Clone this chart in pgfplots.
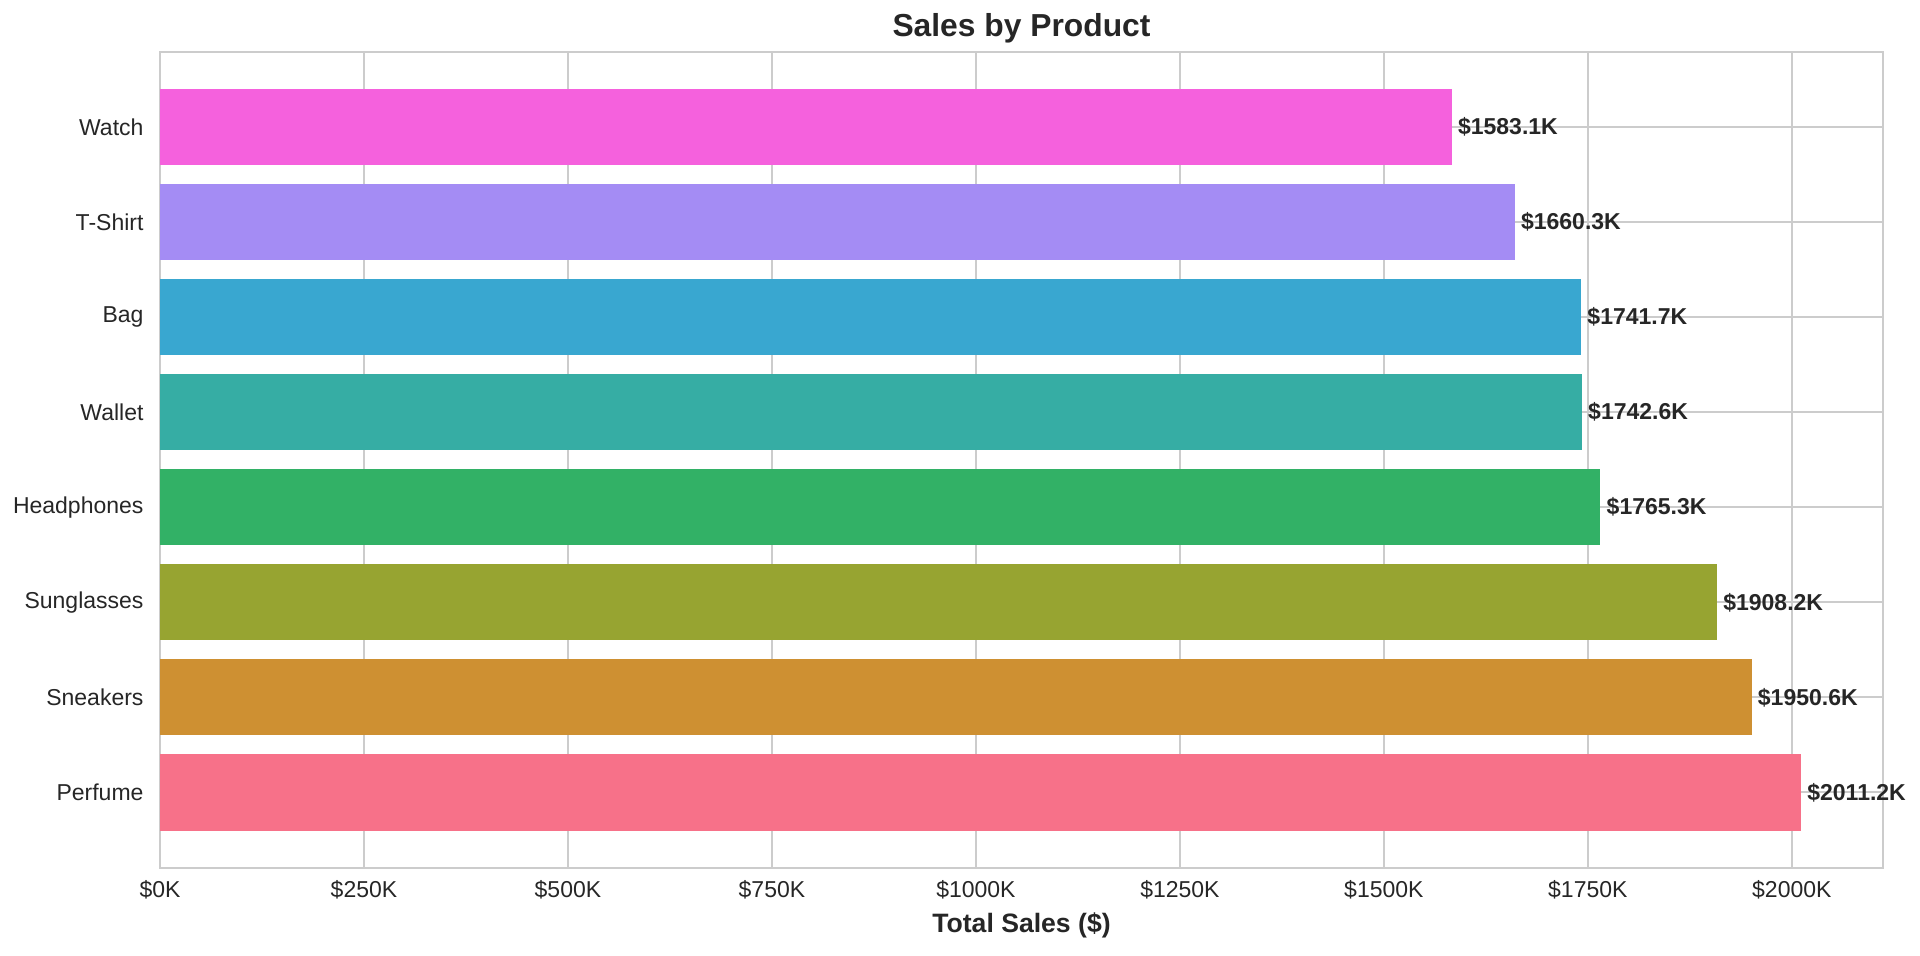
\documentclass[border=0pt]{standalone}
\usepackage{pgfplots}
\pgfplotsset{compat=1.18}
\usepackage{fontspec}
\setmainfont{Liberation Sans}
\definecolor{c0}{HTML}{F77189}
\definecolor{c1}{HTML}{CE9032}
\definecolor{c2}{HTML}{97A431}
\definecolor{c3}{HTML}{32B166}
\definecolor{c4}{HTML}{36ADA4}
\definecolor{c5}{HTML}{39A7D0}
\definecolor{c6}{HTML}{A48CF4}
\definecolor{c7}{HTML}{F561DD}
\definecolor{txt}{HTML}{262626}
\definecolor{gridc}{HTML}{CCCCCC}
\begin{document}
\begin{tikzpicture}
\useasboundingbox (-80pt,-44.15pt) rectangle (880pt,433.8pt);
\begin{axis}[
  at={(0pt,0pt)}, anchor=south west, scale only axis,
  width=861.5pt, height=407.8pt,
  xmin=0, xmax=2111.76, ymin=-0.79, ymax=7.79,
  xbar, bar width=0.8, bar shift=0pt,
  xtick={0,250,500,750,1000,1250,1500,1750,2000},
  xticklabels={\$0K,\$250K,\$500K,\$750K,\$1000K,\$1250K,\$1500K,\$1750K,\$2000K},
  ytick={0,1,2,3,4,5,6,7},
  yticklabels={Perfume,Sneakers,Sunglasses,Headphones,Wallet,Bag,T-Shirt,Watch},
  grid=major, major grid style={draw=gridc, line width=1pt},
  axis line style={draw=gridc, line width=1pt},
  tick style={draw=none},
  ticklabel style={font=\fontsize{11.5}{13}\selectfont, text=txt, inner sep=0pt},
  xticklabel style={anchor=base, yshift=-15pt},
  yticklabel style={anchor=east, xshift=-3.8pt},
  title={Sales by Product},
  title style={at={(0.5,1)}, anchor=base, yshift=1.5pt, inner sep=0pt, font=\bfseries\fontsize{15.9}{18}\selectfont, text=txt},
  xlabel={Total Sales (\$)},
  xlabel style={at={(axis description cs:0.5,0)}, anchor=base, yshift=-32.7pt, inner sep=0pt, font=\bfseries\fontsize{13.3}{15}\selectfont, text=txt},
  every node near coord/.style={anchor=west, inner sep=0pt, xshift=3pt, font=\bfseries\fontsize{11.5}{13}\selectfont, text=txt},
]
\addplot[fill=c0, draw=none, nodes near coords={\$2011.2K}] coordinates {(2011.2,0)};
\addplot[fill=c1, draw=none, nodes near coords={\$1950.6K}] coordinates {(1950.6,1)};
\addplot[fill=c2, draw=none, nodes near coords={\$1908.2K}] coordinates {(1908.2,2)};
\addplot[fill=c3, draw=none, nodes near coords={\$1765.3K}] coordinates {(1765.3,3)};
\addplot[fill=c4, draw=none, nodes near coords={\$1742.6K}] coordinates {(1742.6,4)};
\addplot[fill=c5, draw=none, nodes near coords={\$1741.7K}] coordinates {(1741.7,5)};
\addplot[fill=c6, draw=none, nodes near coords={\$1660.3K}] coordinates {(1660.3,6)};
\addplot[fill=c7, draw=none, nodes near coords={\$1583.1K}] coordinates {(1583.1,7)};
\end{axis}
\end{tikzpicture}
\end{document}
